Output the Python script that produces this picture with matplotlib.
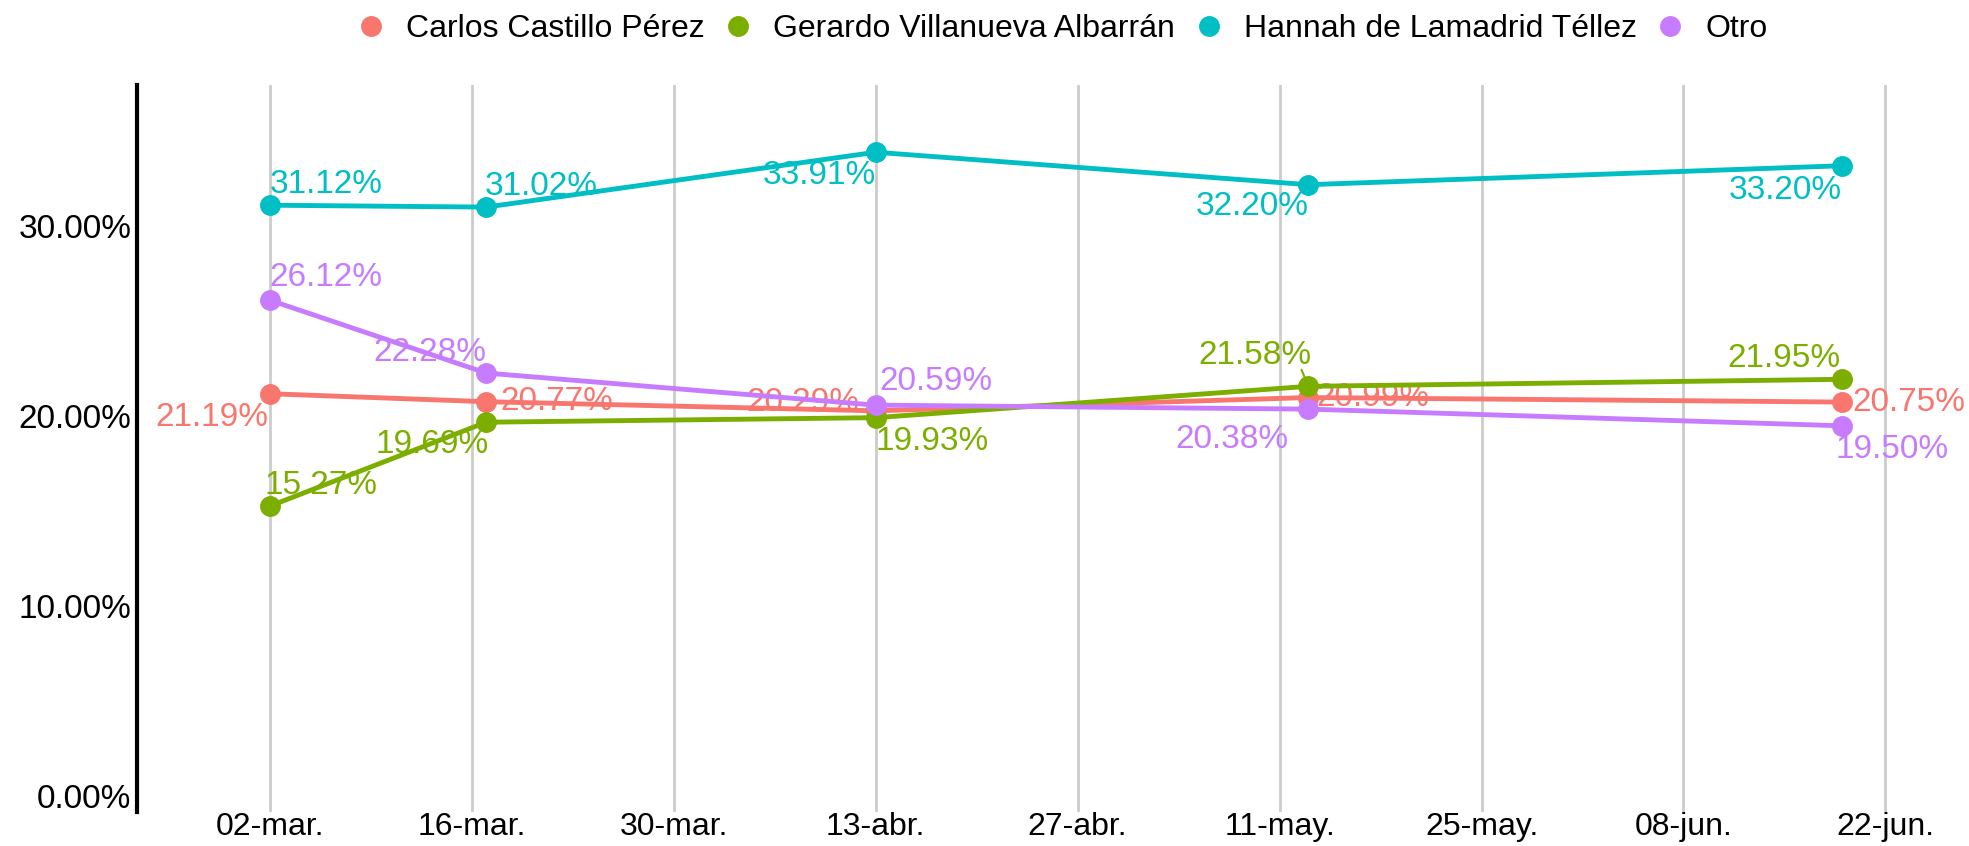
import datetime as dt

import matplotlib
matplotlib.use('Agg')
import matplotlib.pyplot as plt
import matplotlib.dates as mdates
from matplotlib.lines import Line2D
from matplotlib.ticker import FuncFormatter

plt.rcParams['font.family'] = ['Liberation Sans', 'DejaVu Sans']

# data
fechas = [dt.date(2024, 3, 2), dt.date(2024, 3, 17), dt.date(2024, 4, 13),
          dt.date(2024, 5, 13), dt.date(2024, 6, 19)]
candidatos = ['Carlos Castillo Pérez', 'Gerardo Villanueva Albarrán',
              'Hannah de Lamadrid Téllez', 'Otro']
carlos = [21.19, 20.77, 20.29, 20.99, 20.75]
gerardo = [15.27, 19.69, 19.93, 21.58, 21.95]
hannah = [31.12, 31.02, 33.91, 32.20, 33.20]
otro = [26.12, 22.28, 20.59, 20.38, 19.50]
series = [carlos, gerardo, hannah, otro]

tick_fechas = [dt.date(2024, 3, 2) + dt.timedelta(days=14 * i) for i in range(9)]
tick_labels = ['02-mar.', '16-mar.', '30-mar.', '13-abr.', '27-abr.',
               '11-may.', '25-may.', '08-jun.', '22-jun.']

colores = ['#F8766D', '#7CAE00', '#00BFC4', '#C77CFF']

# label offsets (points) and alignment, mimicking ggrepel placement
offsets = [
    [(-1, -17, 'right'), (10, 0, 'left'), (-12, 6, 'right'), (6, 0, 'left'), (7, 0, 'left')],
    [(-4, 15, 'left'), (2, -16, 'right'), (0, -17, 'left'), (2, 22, 'right'), (-1, 15, 'right')],
    [(0, 15, 'left'), (-1, 15, 'left'), (0, -17, 'right'), (0, -16, 'right'), (0, -18, 'right')],
    [(0, 16, 'left'), (0, 15, 'right'), (3, 17, 'left'), (-14, -22, 'right'), (-5, -17, 'left')],
]

fig = plt.figure(figsize=(19.69, 8.46), dpi=100)
ax = fig.add_axes([0.0696, 0.0402, 0.929, 0.8593])

for nombre, vals, col, offs in zip(candidatos, series, colores, offsets):
    ax.plot(fechas, vals, color=col, lw=3.5, marker='o', ms=14,
            solid_capstyle='round', zorder=3)
    for f, v, (dx, dy, ha) in zip(fechas, vals, offs):
        ax.annotate(f'{v:.2f}%', (mdates.date2num(f), v), xytext=(dx, dy),
                    textcoords='offset points', ha=ha, va='center',
                    color=col, fontsize=24, zorder=2)

# ggrepel segment for the 21.58% label
ax.annotate('', xy=(mdates.date2num(fechas[3]), gerardo[3]),
            xytext=(-5, 12), textcoords='offset points',
            arrowprops=dict(arrowstyle='-', color=colores[1], lw=1.5,
                            shrinkA=0, shrinkB=6))

x0 = mdates.date2num(dt.date(2024, 3, 2))
ax.set_xlim(x0 - 9.2, x0 + 117.6)
ax.set_ylim(-0.84, 37.45)

ax.set_xticks([mdates.date2num(t) for t in tick_fechas])
ax.set_xticklabels(tick_labels)
ax.set_yticks([0, 10, 20, 30])
ax.yaxis.set_major_formatter(FuncFormatter(lambda v, p: f'{v:.2f}%'))
ax.tick_params(axis='both', length=0, labelsize=23, colors='black')
ax.tick_params(axis='x', pad=0)
ax.tick_params(axis='y', pad=4, labelsize=24)

ax.grid(axis='x', color='#CCCCCC', lw=2)
ax.set_axisbelow(True)
for s in ['top', 'right', 'bottom']:
    ax.spines[s].set_visible(False)
ax.spines['left'].set_linewidth(3)
ax.spines['left'].set_color('black')

handles = [Line2D([], [], ls='none', marker='o', ms=14, color=c) for c in colores]
fig.legend(handles, candidatos, loc='center', bbox_to_anchor=(0.539, 0.966),
           ncol=4, frameon=False, fontsize=23, handletextpad=0.6,
           columnspacing=0.55, handlelength=1.0)

plt.savefig('out.png', dpi=100)
plt.close()
